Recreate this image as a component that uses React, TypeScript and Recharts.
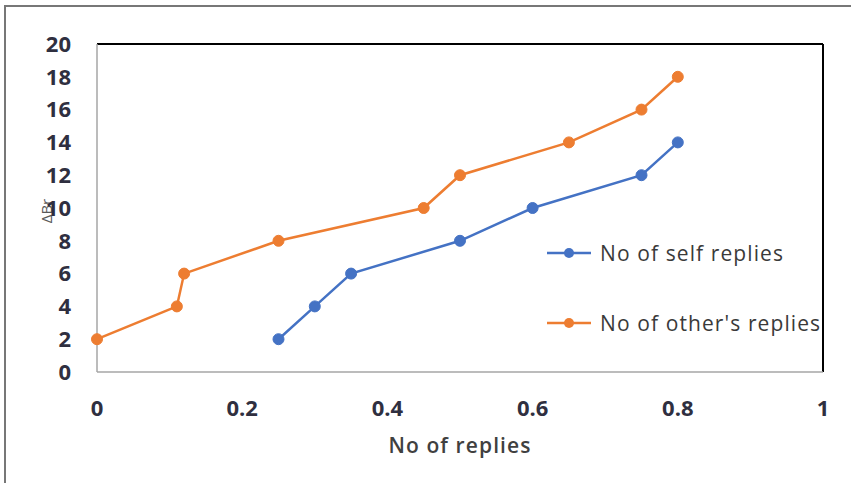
import React from 'react';
import {
  LineChart,
  Line,
  XAxis,
  YAxis,
  ReferenceLine,
  Label,
} from 'recharts';

// replies ratio (x) against ΔBr (y) for each series
const selfReplies = [0.25, 0.3, 0.35, 0.5, 0.6, 0.75, 0.8];
const selfBr = [2, 4, 6, 8, 10, 12, 14];
const otherReplies = [0, 0.11, 0.12, 0.25, 0.45, 0.5, 0.65, 0.75, 0.8];
const otherBr = [2, 4, 6, 8, 10, 12, 14, 16, 18];

const xTicks = [0, 0.2, 0.4, 0.6, 0.8, 1];
const yTicks = [0, 2, 4, 6, 8, 10, 12, 14, 16, 18, 20];

const SELF_COLOR = '#4472C4';
const OTHER_COLOR = '#ED7D31';
const FONT = '"Open Sans", "Noto Sans", sans-serif';

const selfData = selfReplies.map((x, i) => ({ x, y: selfBr[i] }));
const otherData = otherReplies.map((x, i) => ({ x, y: otherBr[i] }));

const seriesList = [
  { name: 'No of self replies', color: SELF_COLOR },
  { name: "No of other's replies", color: OTHER_COLOR },
];

// legend sits inside the plot, to the lower right
const LegendBox: React.FC = () => (
  <div style={{ position: 'absolute', left: 545, top: 238, fontFamily: FONT }}>
    {seriesList.map((s) => (
      <div key={s.name} style={{ display: 'flex', alignItems: 'center', height: 30, marginBottom: 40 }}>
        <svg width={48} height={12} style={{ marginRight: 7 }}>
          <line x1={2} y1={6} x2={46} y2={6} stroke={s.color} strokeWidth={2.5} />
          <circle cx={24} cy={6} r={5} fill={s.color} />
        </svg>
        <span style={{ fontSize: 21, letterSpacing: 1.1, color: '#3a3a3a', whiteSpace: 'nowrap' }}>
          {s.name}
        </span>
      </div>
    ))}
  </div>
);

const tickStyle = { fontSize: 22, fontWeight: 700, fill: '#2f2f40', fontFamily: FONT };

export default function App() {
  return (
    <div style={{ position: 'absolute', left: 0, top: 0, width: 851, height: 483, background: '#fff' }}>
      <div
        style={{
          position: 'absolute',
          left: 4,
          top: 5,
          right: 0,
          bottom: 0,
          borderLeft: '2px solid #777',
          borderTop: '2px solid #777',
        }}
      />
      <LineChart
        width={851}
        height={483}
        margin={{ top: 44, right: 28, bottom: 0, left: 0 }}
        style={{ position: 'absolute', left: 0, top: 0 }}
      >
        <XAxis
          type="number"
          dataKey="x"
          domain={[0, 1]}
          ticks={xTicks}
          tickFormatter={(v: number) => String(v)}
          axisLine={{ stroke: '#a6a6a6', strokeWidth: 1.5 }}
          tickLine={false}
          tickMargin={22}
          height={111}
          tick={tickStyle}
        >
          <Label
            value="No of replies"
            position="insideTop"
            offset={66}
            style={{ fontSize: 21, letterSpacing: 1.1, fontWeight: 600, fill: '#404040', fontFamily: FONT }}
          />
        </XAxis>
        <YAxis
          type="number"
          dataKey="y"
          domain={[0, 20]}
          ticks={yTicks}
          axisLine={{ stroke: '#a6a6a6', strokeWidth: 1.5 }}
          tickLine={false}
          tickMargin={20}
          width={97}
          tick={tickStyle}
        >
          <Label
            content={({ viewBox }: any) => {
              const cy = viewBox.y + viewBox.height / 2 + 3;
              return (
                <text
                  x={46}
                  y={cy}
                  transform={`rotate(-90 46 ${cy})`}
                  textAnchor="middle"
                  dominantBaseline="central"
                  style={{ fontSize: 15, fill: '#595959', fontFamily: FONT }}
                >
                  ΔBr
                </text>
              );
            }}
          />
        </YAxis>
        <ReferenceLine y={20} stroke="#000" strokeWidth={2} />
        <ReferenceLine x={1} stroke="#000" strokeWidth={2} />
        <Line
          data={otherData}
          dataKey="y"
          name="No of other's replies"
          stroke={OTHER_COLOR}
          strokeWidth={2.5}
          dot={{ r: 5.5, fill: OTHER_COLOR, stroke: OTHER_COLOR, strokeWidth: 1 }}
          isAnimationActive={false}
        />
        <Line
          data={selfData}
          dataKey="y"
          name="No of self replies"
          stroke={SELF_COLOR}
          strokeWidth={2.5}
          dot={{ r: 5.5, fill: SELF_COLOR, stroke: SELF_COLOR, strokeWidth: 1 }}
          isAnimationActive={false}
        />
      </LineChart>
      <LegendBox />
    </div>
  );
}
